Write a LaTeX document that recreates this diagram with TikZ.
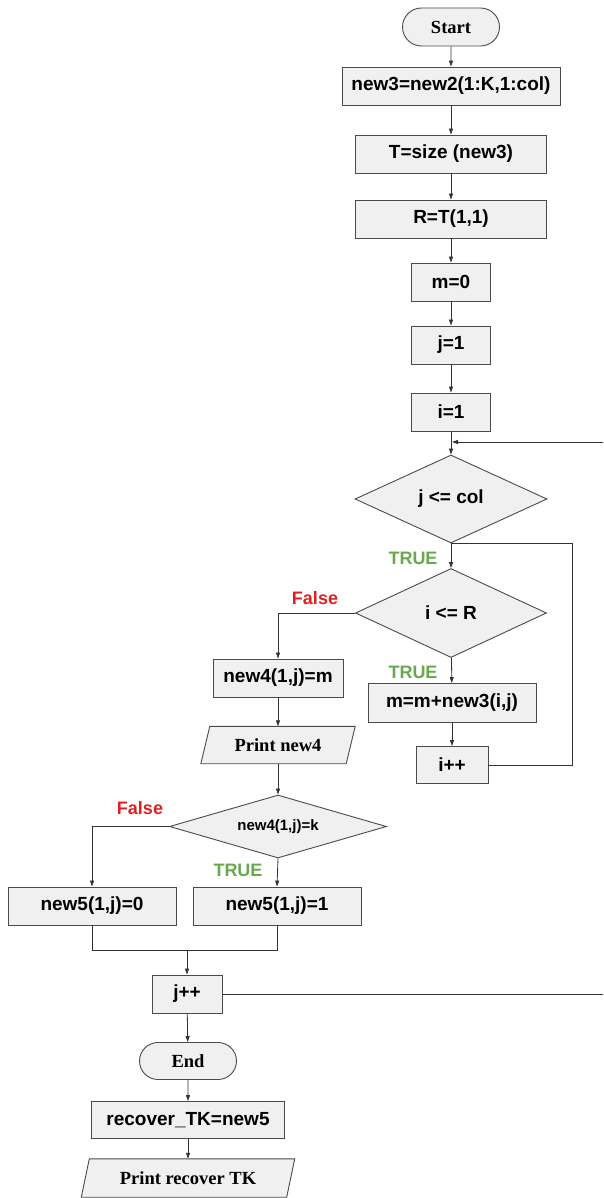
\documentclass[tikz,border=0pt]{standalone}
\usepackage{fontspec}
\setmainfont{Liberation Serif}
\setsansfont{Liberation Sans}
\usetikzlibrary{shapes.geometric,shapes.misc,arrows.meta}
\pgfdeclarelayer{background}
\pgfsetlayers{background,main}
\definecolor{boxfill}{HTML}{F0F0F0}
\definecolor{edge}{HTML}{4A4A4A}
\definecolor{linecol}{HTML}{333333}
\definecolor{truegreen}{HTML}{6AA84F}
\definecolor{falsered}{HTML}{E02020}
\tikzset{
  base/.style={draw=edge, fill=boxfill, line width=0.9pt, inner sep=0pt},
  sansbold/.style={font=\sffamily\bfseries\fontsize{19}{21}\selectfont},
  lblfont/.style={font=\sffamily\bfseries\fontsize{18}{20}\selectfont},
  serifbold/.style={font=\rmfamily\bfseries\fontsize{18.5}{20}\selectfont},
  procbox/.style={base, rectangle, sansbold},
  termbox/.style={base, rounded rectangle, serifbold},
  decbox/.style={base, diamond, sansbold},
  iotext/.style={inner sep=0pt, serifbold},
  iofill/.style={draw=edge, fill=boxfill, line width=0.9pt},
  conn/.style={draw=linecol, line width=0.8pt},
  arr/.style={conn, -{Triangle[length=6pt,width=4pt]}},
  truelbl/.style={text=truegreen, lblfont},
  falselbl/.style={text=falsered, lblfont}
}
\begin{document}
\begin{tikzpicture}[x=1pt,y=-1pt]
\useasboundingbox (0,0) rectangle (603,1198);

% main column
\node[termbox, minimum width=97, minimum height=38] (start) at (451,27) {Start};
\node[procbox, minimum width=218, minimum height=38] (new3) at (451,86) {new3=new2(1:K,1:col)};
\node[procbox, minimum width=191, minimum height=38] (tsize) at (451,154) {T=size (new3)};
\node[procbox, minimum width=191, minimum height=38] (rdef) at (451,219) {R=T(1,1)};
\node[procbox, minimum width=79, minimum height=38] (m0) at (451,282) {m=0};
\node[procbox, minimum width=79, minimum height=38] (j1) at (451,345) {j=1};
\node[procbox, minimum width=79, minimum height=38] (i1) at (451,412) {i=1};
\node[decbox, aspect=2.2, minimum width=192, minimum height=88] (jcol) at (451,499) {j <= col};
\node[decbox, aspect=2.2, minimum width=191, minimum height=89] (ir) at (451,613) {i <= R};
\node[procbox, minimum width=168, minimum height=39] (msum) at (452,703) {m=m+new3(i,j)};
\node[procbox, minimum width=72, minimum height=37] (ipp) at (452,765) {i++};

% inner-loop exit branch
\node[procbox, minimum width=130, minimum height=38] (new4) at (278,678) {new4(1,j)=m};
\node[iotext, minimum width=145, minimum height=37] (pnew4) at (278,745) {Print new4};
\node[decbox, aspect=3.4, minimum width=217, minimum height=63, font=\sffamily\bfseries\fontsize{15}{17}\selectfont] (kd) at (278,826.5) {new4(1,j)=k};
\node[procbox, minimum width=168, minimum height=38] (n50) at (92,906) {new5(1,j)=0};
\node[procbox, minimum width=168, minimum height=38] (n51) at (277,906) {new5(1,j)=1};
\node[procbox, minimum width=70, minimum height=38] (jpp) at (187,994) {j++};
\node[termbox, minimum width=97, minimum height=37] (stop) at (188,1061) {End};
\node[procbox, minimum width=193, minimum height=37] (rec) at (188,1120) {recover\_TK=new5};
\node[iotext, minimum width=205, minimum height=38] (prec) at (188,1178) {Print recover TK};

% parallelogram outlines behind the output texts
\begin{pgfonlayer}{background}
  \draw[iofill] ([xshift=-4.5pt]pnew4.south west) -- ([xshift=4.5pt]pnew4.north west)
    -- ([xshift=4.5pt]pnew4.north east) -- ([xshift=-4.5pt]pnew4.south east) -- cycle;
  \draw[iofill] ([xshift=-4pt]prec.south west) -- ([xshift=4pt]prec.north west)
    -- ([xshift=4pt]prec.north east) -- ([xshift=-4pt]prec.south east) -- cycle;
\end{pgfonlayer}

% branch labels
\node[truelbl] (t1) at (413,558) {TRUE};
\node[falselbl] (f1) at (315,598) {False};
\node[truelbl] (t2) at (413,672) {TRUE};
\node[falselbl] (f2) at (140,808) {False};
\node[truelbl] (t3) at (238,870) {TRUE};

% loop-back ends at the right edge
\coordinate (backin) at (603,442);
\coordinate (backout) at (603,994);
\coordinate (loopr) at (572,0);
\coordinate (merge) at (0,950);

% straight flow
\draw[arr] (start) -- (new3);
\draw[arr] (new3) -- (tsize);
\draw[arr] (tsize) -- (rdef);
\draw[arr] (rdef) -- (m0);
\draw[arr] (m0) -- (j1);
\draw[arr] (j1) -- (i1);
\draw[arr] (i1) -- (jcol);
\draw[arr] (backin) -- ([xshift=1pt]i1.south |- backin);
\draw[arr] (jcol) -- (ir);
\draw[arr] (ir) -- (msum);
\draw[arr] (msum) -- (ipp);
\draw[conn] (jcol.south) -- (jcol.south -| loopr) -- (ipp.east -| loopr) -- (ipp.east);
\draw[arr] (ir.west) -| (new4.north);
\draw[arr] (new4) -- (pnew4);
\draw[arr] (pnew4) -- (kd);
\draw[arr] (kd.west) -| (n50.north);
\draw[arr] (kd.south) -- (n51.north);
\draw[conn] (n50.south) -- (n50.south |- merge) -- (n51.south |- merge) -- (n51.south);
\draw[arr] (jpp.north |- merge) -- (jpp.north);
\draw[conn] (jpp.east) -- (backout);
\draw[arr] (jpp) -- (stop);
\draw[arr] (stop) -- (rec);
\draw[arr] (rec) -- (prec);
\end{tikzpicture}
\end{document}
